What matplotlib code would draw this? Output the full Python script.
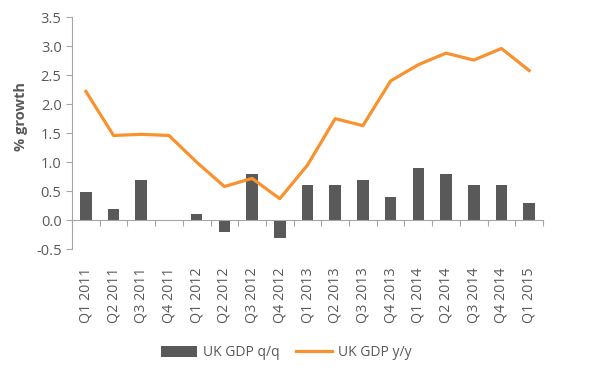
import numpy as np
import matplotlib.pyplot as plt

quarters = ["Q1 2011", "Q2 2011", "Q3 2011", "Q4 2011",
            "Q1 2012", "Q2 2012", "Q3 2012", "Q4 2012",
            "Q1 2013", "Q2 2013", "Q3 2013", "Q4 2013",
            "Q1 2014", "Q2 2014", "Q3 2014", "Q4 2014",
            "Q1 2015"]
gdp_qq = [0.48, 0.2, 0.7, 0.0, 0.1, -0.2, 0.8, -0.3, 0.6, 0.6, 0.7, 0.4,
          0.9, 0.8, 0.6, 0.6, 0.3]
gdp_yy = [2.22, 1.46, 1.48, 1.46, 1.0, 0.58, 0.72, 0.37, 0.95, 1.75, 1.63,
          2.4, 2.68, 2.88, 2.76, 2.96, 2.58]

plt.rcParams['font.family'] = ['Open Sans', 'DejaVu Sans']
text_col = '#595959'
axis_col = '#A6A6A6'

fig = plt.figure(figsize=(6, 3.73), dpi=100)
ax = fig.add_axes([0.12, 0.332, 0.785, 0.622])

x = np.arange(len(quarters))
bars = ax.bar(x, gdp_qq, width=0.42, color='#595959', label='UK GDP q/q')
line, = ax.plot(x, gdp_yy, color='#F7922F', linewidth=2.3, label='UK GDP y/y')

ax.set_xlim(-0.5, len(quarters) - 0.5)
ax.set_ylim(-0.5, 3.5)
ax.set_yticks(np.arange(-0.5, 3.51, 0.5))
ax.set_yticklabels([f"{v:.1f}" for v in np.arange(-0.5, 3.51, 0.5)])

for s in ['top', 'right']:
    ax.spines[s].set_visible(False)
ax.spines['left'].set_color(axis_col)
ax.spines['bottom'].set_color(axis_col)
ax.spines['bottom'].set_position(('data', 0))
ax.set_xticks(np.arange(-0.5, len(quarters), 1))
ax.set_xticklabels([])
ax.tick_params(axis='x', direction='out', length=4, color=axis_col)
ax.tick_params(axis='y', direction='out', length=4, color=axis_col,
               labelsize=10.5, labelcolor=text_col)

sec = ax.secondary_xaxis('bottom')
sec.set_xticks(x)
sec.set_xticklabels(quarters, rotation=90, fontsize=10.3, color=text_col)
sec.tick_params(length=0, pad=13)
sec.spines['bottom'].set_visible(False)

ax.set_ylabel('% growth', color=text_col, fontsize=10.5, fontweight='bold')
ax.yaxis.set_label_coords(-0.093, 0.57)

fig.legend([bars, line], ['UK GDP q/q', 'UK GDP y/y'],
           loc='lower center', bbox_to_anchor=(0.477, 0.0), ncol=2,
           frameon=False, fontsize=10, labelcolor=text_col,
           handlelength=2.6, handleheight=0.9, columnspacing=1.2,
           handletextpad=0.4)

fig.savefig('out.png', dpi=100)
